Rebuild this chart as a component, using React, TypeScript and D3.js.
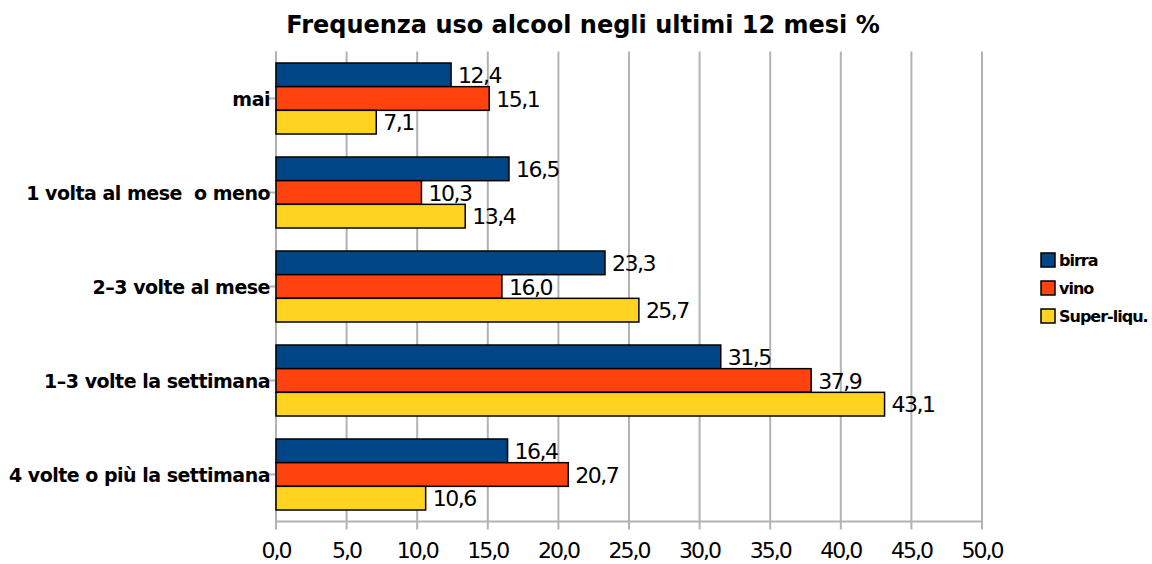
import React from "react";
import * as d3 from "d3";

const categories = [
  "mai",
  "1 volta al mese  o meno",
  "2–3 volte al mese",
  "1–3 volte la settimana",
  "4 volte o più la settimana",
];
const seriesNames = ["birra", "vino", "Super-liqu."];
const birra = [12.4, 16.5, 23.3, 31.5, 16.4];
const vino = [15.1, 10.3, 16.0, 37.9, 20.7];
const superliq = [7.1, 13.4, 25.7, 43.1, 10.6];
const xTicks = [0, 5, 10, 15, 20, 25, 30, 35, 40, 45, 50];
const colors = ["#004586", "#ff420e", "#ffd320"];

const fmt = (v: number) => v.toFixed(1).replace(".", ",");

export default function App() {
  const W = 1152, H = 564;
  const left = 276, right = 982, top = 51.5, bottom = 521.5;
  const x = d3.scaleLinear().domain([0, 50]).range([left, right]);
  const y = d3.scaleBand<string>().domain(categories).range([top, bottom]);
  const inner = d3.scaleBand<string>().domain(seriesNames).range([0, 71]);
  const data = [birra, vino, superliq];
  const font = "DejaVu Sans, sans-serif";
  return (
    <svg width={W} height={H} style={{ position: "absolute", left: 0, top: 0 }}>
      <rect width={W} height={H} fill="#fff" />
      <text x={583} y={33} textAnchor="middle" fontFamily={font} fontSize={24} fontWeight="bold" fill="#000">
        Frequenza uso alcool negli ultimi 12 mesi %
      </text>
      {xTicks.map((t) => (
        <g key={t}>
          <line x1={x(t)} x2={x(t)} y1={top} y2={bottom + 8} stroke="#b3b3b3" strokeWidth={2} />
          <text x={x(t)} y={558} textAnchor="middle" fontFamily={font} fontSize={22} fill="#000" letterSpacing={-2}>
            {fmt(t)}
          </text>
        </g>
      ))}
      <line x1={left} x2={right} y1={bottom} y2={bottom} stroke="#b3b3b3" strokeWidth={2} />
      <line x1={left} x2={left} y1={top} y2={bottom} stroke="#b3b3b3" strokeWidth={2} />
      {categories.map((c) => (
        <g key={c}>
          <line x1={left - 8} x2={left} y1={y(c)! + y.bandwidth() / 2} y2={y(c)! + y.bandwidth() / 2} stroke="#b3b3b3" strokeWidth={2} />
          <text x={270} y={y(c)! + y.bandwidth() / 2 + 7} textAnchor="end" fontFamily={font} fontSize={19} fontWeight="bold" fill="#000" letterSpacing={-0.5} style={{ whiteSpace: "pre" }}>
            {c}
          </text>
        </g>
      ))}
      {categories.map((c, i) => (
        <g key={c}>
          {seriesNames.map((s, j) => {
            const v = data[j][i];
            const by = y(c)! + (y.bandwidth() - 71) / 2 + inner(s)!;
            return (
              <g key={s}>
                <rect x={x(0)} y={by} width={x(v) - x(0)} height={inner.bandwidth()} fill={colors[j]} stroke="#000" strokeWidth={1.5} />
                <text x={x(v) + 7} y={by + inner.bandwidth() / 2 + 8} fontFamily={font} fontSize={22} fill="#000" letterSpacing={-1.5}>
                  {fmt(v)}
                </text>
              </g>
            );
          })}
        </g>
      ))}
      {seriesNames.map((s, j) => (
        <g key={s}>
          <rect x={1041} y={253 + j * 28} width={14} height={14} fill={colors[j]} stroke="#000" strokeWidth={1.5} />
          <text x={1059} y={266 + j * 28} fontFamily={font} fontSize={16} fontWeight="bold" fill="#000" letterSpacing={-1}>
            {s}
          </text>
        </g>
      ))}
    </svg>
  );
}
